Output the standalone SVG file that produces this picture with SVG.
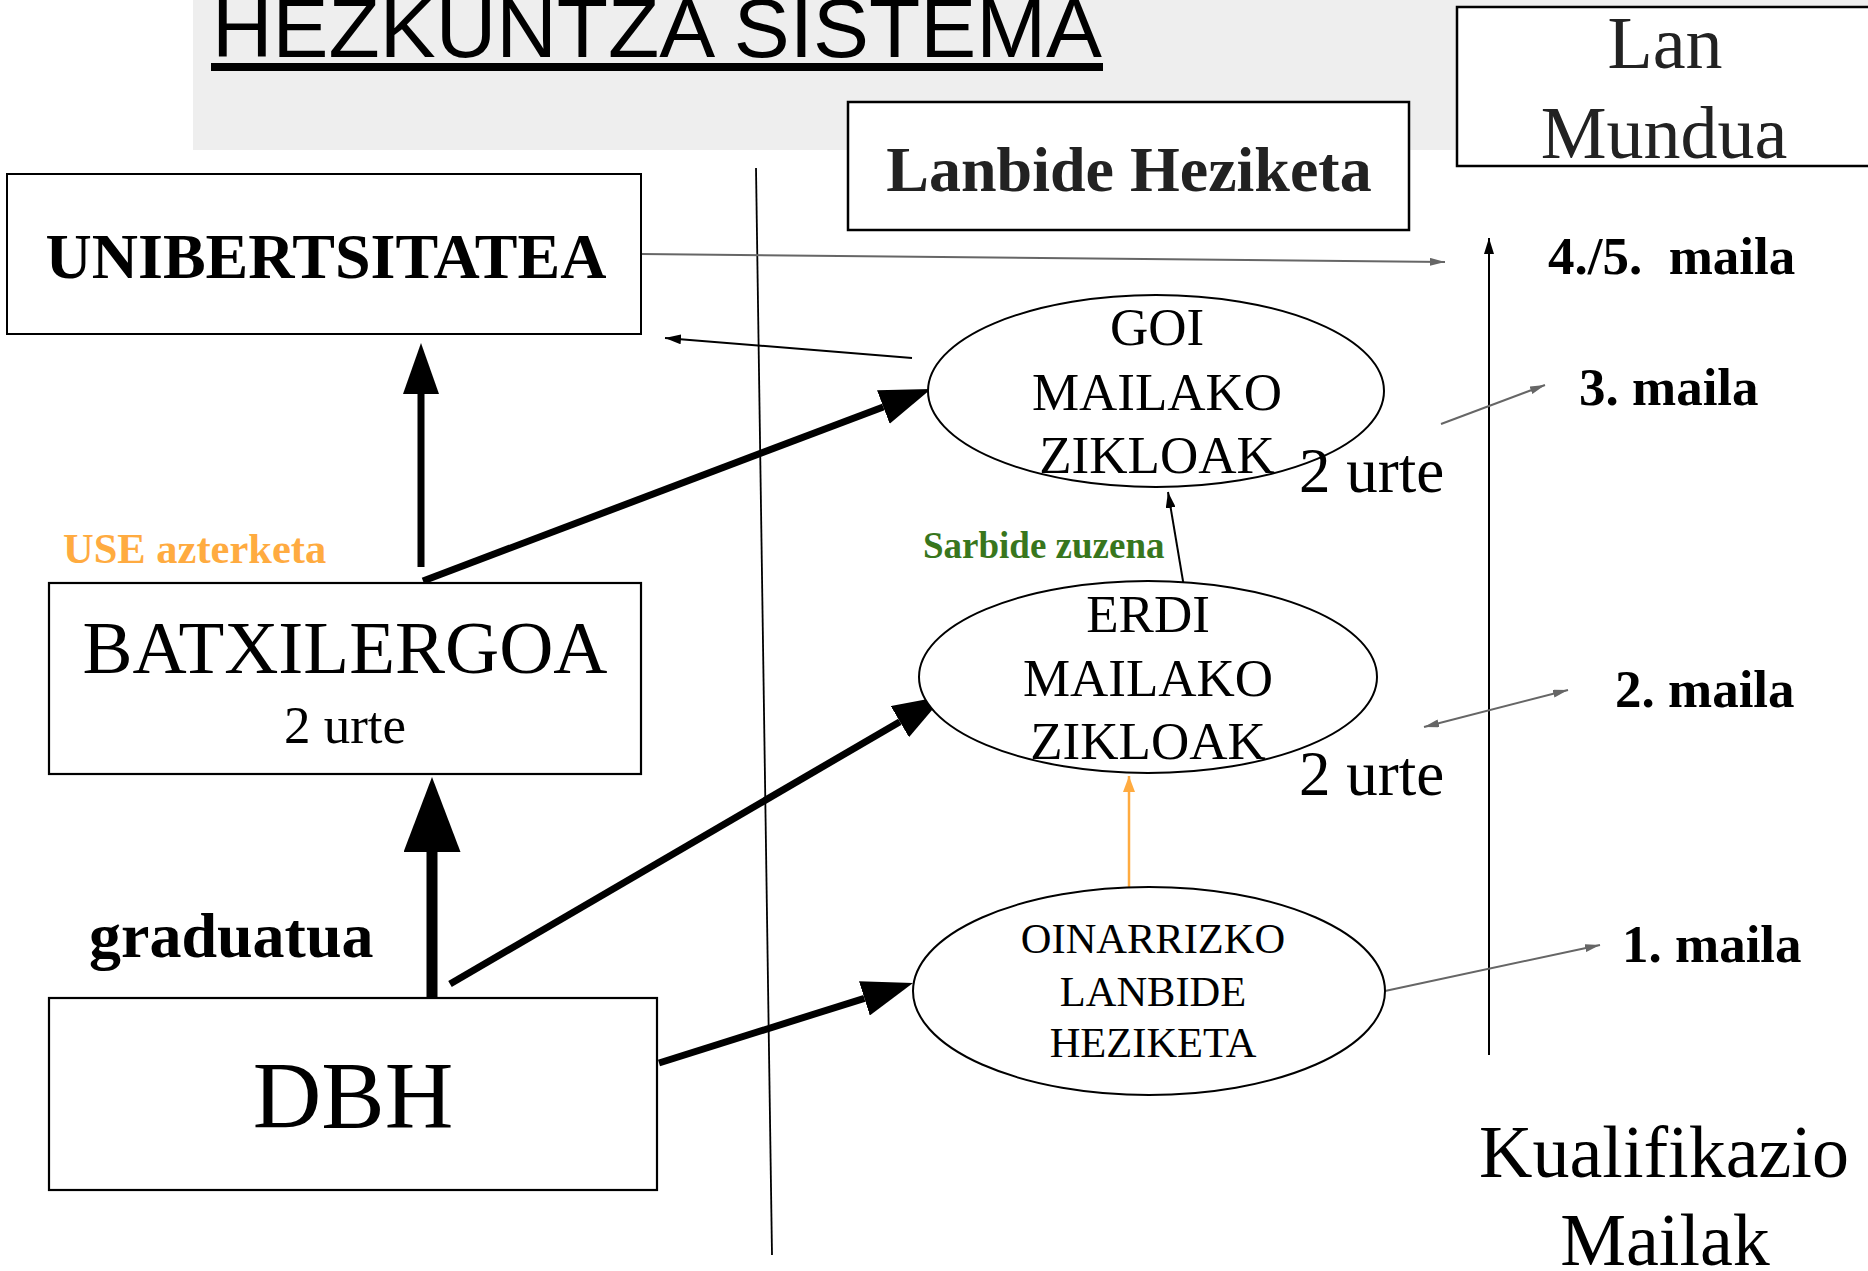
<svg xmlns="http://www.w3.org/2000/svg" width="1868" height="1271" viewBox="0 0 1868 1271">
<defs>
<style>
.serif{font-family:"Liberation Serif","Times New Roman",serif;}
.b{font-weight:bold;}
.box{fill:#fff;stroke:#000;}
.ell{fill:#fff;stroke:#000;stroke-width:2;}
.c{text-anchor:middle;}
.thick{stroke:#000;fill:none;}
.thin{stroke:#000;stroke-width:2;fill:none;}
.gray{stroke:#666;stroke-width:2;fill:none;}
</style>
<marker id="hd" viewBox="0 0 51 36" refX="0" refY="18" markerWidth="51" markerHeight="36" markerUnits="userSpaceOnUse" orient="auto"><path d="M0,0 L51,18 L0,36 z" fill="#000"/></marker>
<marker id="hdL" viewBox="0 0 75 57" refX="0" refY="28.5" markerWidth="75" markerHeight="57" markerUnits="userSpaceOnUse" orient="auto"><path d="M0,0 L75,28.5 L0,57 z" fill="#000"/></marker>
<marker id="sm" viewBox="0 0 16 10" refX="16" refY="5" markerWidth="16" markerHeight="10" markerUnits="userSpaceOnUse" orient="auto"><path d="M0,0 L16,5 L0,10 z" fill="#000"/></marker>
<marker id="gr" viewBox="0 0 15 8" refX="15" refY="4" markerWidth="15" markerHeight="8" markerUnits="userSpaceOnUse" orient="auto-start-reverse"><path d="M0,0 L15,4 L0,8 z" fill="#666"/></marker>
<marker id="or" viewBox="0 0 16 12" refX="16" refY="6" markerWidth="16" markerHeight="12" markerUnits="userSpaceOnUse" orient="auto"><path d="M0,0 L16,6 L0,12 z" fill="#ffab40"/></marker>
</defs>
<rect width="1868" height="1271" fill="#fff"/>
<g id="title">
<rect x="193" y="0" width="1675" height="150" fill="#eeeeee"/>
<text x="212" y="57" font-family="Liberation Sans, Arial, sans-serif" font-size="83" textLength="890" lengthAdjust="spacingAndGlyphs" fill="#000">HEZKUNTZA SISTEMA</text>
<rect x="211" y="63" width="892" height="8" fill="#000"/>
</g>
<g id="connectors">
<line x1="756" y1="168" x2="772" y2="1255" stroke="#000" stroke-width="1.8"/>
<line class="thick" x1="421" y1="567" x2="421" y2="394" stroke-width="7" marker-end="url(#hd)"/>
<line class="thick" x1="432" y1="998" x2="432" y2="852" stroke-width="11" marker-end="url(#hdL)"/>
<line class="thick" x1="423" y1="581" x2="883.3" y2="407" stroke-width="7" marker-end="url(#hd)"/>
<line class="thick" x1="450" y1="984" x2="899.9" y2="721.7" stroke-width="7" marker-end="url(#hd)"/>
<line class="thick" x1="659" y1="1063" x2="864.4" y2="998.3" stroke-width="7" marker-end="url(#hd)"/>
<line class="thin" x1="912" y1="358" x2="665" y2="338" stroke-width="2.5" marker-end="url(#sm)"/>
<line class="thin" x1="1184" y1="587" x2="1168" y2="492" stroke-width="1.5" marker-end="url(#sm)"/>
<line x1="1129" y1="887" x2="1129" y2="776" stroke="#ffab40" stroke-width="2.5" marker-end="url(#or)"/>
<line class="thin" x1="1489" y1="1055" x2="1489" y2="238" stroke-width="2.5" marker-end="url(#sm)"/>
<line class="gray" x1="641" y1="254" x2="1445" y2="262" marker-end="url(#gr)"/>
<line class="gray" x1="1385" y1="991" x2="1600" y2="945" marker-end="url(#gr)"/>
<line class="gray" x1="1424" y1="727" x2="1568" y2="690" marker-start="url(#gr)" marker-end="url(#gr)"/>
<line class="gray" x1="1441" y1="424" x2="1545" y2="385" marker-end="url(#gr)"/>
</g>
<g id="lan-mundua">
<rect class="box" x="1457" y="7" width="420" height="159" stroke-width="2.5"/>
<text class="serif c" x="1665" y="68" font-size="74" fill="#222">Lan</text>
<text class="serif c" x="1664" y="158" font-size="74" fill="#222">Mundua</text>
</g>
<g id="lanbide-heziketa">
<rect class="box" x="848" y="102" width="561" height="128" stroke-width="2.5"/>
<text class="serif b c" x="1129" y="191" font-size="64" fill="#222">Lanbide Heziketa</text>
</g>
<g id="unibertsitatea">
<rect class="box" x="7" y="174" width="634" height="160" stroke="#333" stroke-width="2"/>
<text class="serif b c" x="326" y="278" font-size="64">UNIBERTSITATEA</text>
</g>
<g id="use-azterketa">
<text class="serif b" x="63" y="563" font-size="42.5" fill="#ffab40">USE azterketa</text>
</g>
<g id="batxilergoa">
<rect class="box" x="49" y="583" width="592" height="191" stroke-width="2.2"/>
<text class="serif c" x="345" y="673" font-size="75">BATXILERGOA</text>
<text class="serif c" x="345" y="743" font-size="53">2 urte</text>
</g>
<g id="graduatua">
<text class="serif b" x="89" y="957" font-size="64">graduatua</text>
</g>
<g id="dbh">
<rect class="box" x="49" y="998" width="608" height="192" stroke-width="2.2"/>
<text class="serif c" x="353" y="1128" font-size="95">DBH</text>
</g>
<g id="goi-mailako">
<ellipse class="ell" cx="1156" cy="391" rx="228" ry="96"/>
<text class="serif c" x="1157" y="345" font-size="53">GOI</text>
<text class="serif c" x="1157" y="410" font-size="53">MAILAKO</text>
<text class="serif c" x="1157" y="473" font-size="53">ZIKLOAK</text>
<text class="serif" x="1299" y="492" font-size="63">2 urte</text>
</g>
<g id="sarbide-zuzena">
<text class="serif b" x="923" y="558" font-size="37" fill="#38761d">Sarbide zuzena</text>
</g>
<g id="erdi-mailako">
<ellipse class="ell" cx="1148" cy="677" rx="229" ry="96"/>
<text class="serif c" x="1148" y="632" font-size="53">ERDI</text>
<text class="serif c" x="1148" y="696" font-size="53">MAILAKO</text>
<text class="serif c" x="1148" y="759" font-size="53">ZIKLOAK</text>
<text class="serif" x="1299" y="795" font-size="63">2 urte</text>
</g>
<g id="oinarrizko">
<ellipse class="ell" cx="1149" cy="991" rx="236" ry="104"/>
<text class="serif c" x="1153" y="953" font-size="42.5">OINARRIZKO</text>
<text class="serif c" x="1153" y="1006" font-size="42.5">LANBIDE</text>
<text class="serif c" x="1153" y="1057" font-size="42.5">HEZIKETA</text>
</g>
<g id="mailak">
<text class="serif b" x="1548" y="274" font-size="53" xml:space="preserve">4./5.  maila</text>
<text class="serif b" x="1579" y="405" font-size="53">3. maila</text>
<text class="serif b" x="1615" y="707" font-size="53">2. maila</text>
<text class="serif b" x="1622" y="962" font-size="53">1. maila</text>
<text class="serif c" x="1664" y="1177" font-size="74">Kualifikazio</text>
<text class="serif c" x="1665" y="1265" font-size="74">Mailak</text>
</g>
</svg>
